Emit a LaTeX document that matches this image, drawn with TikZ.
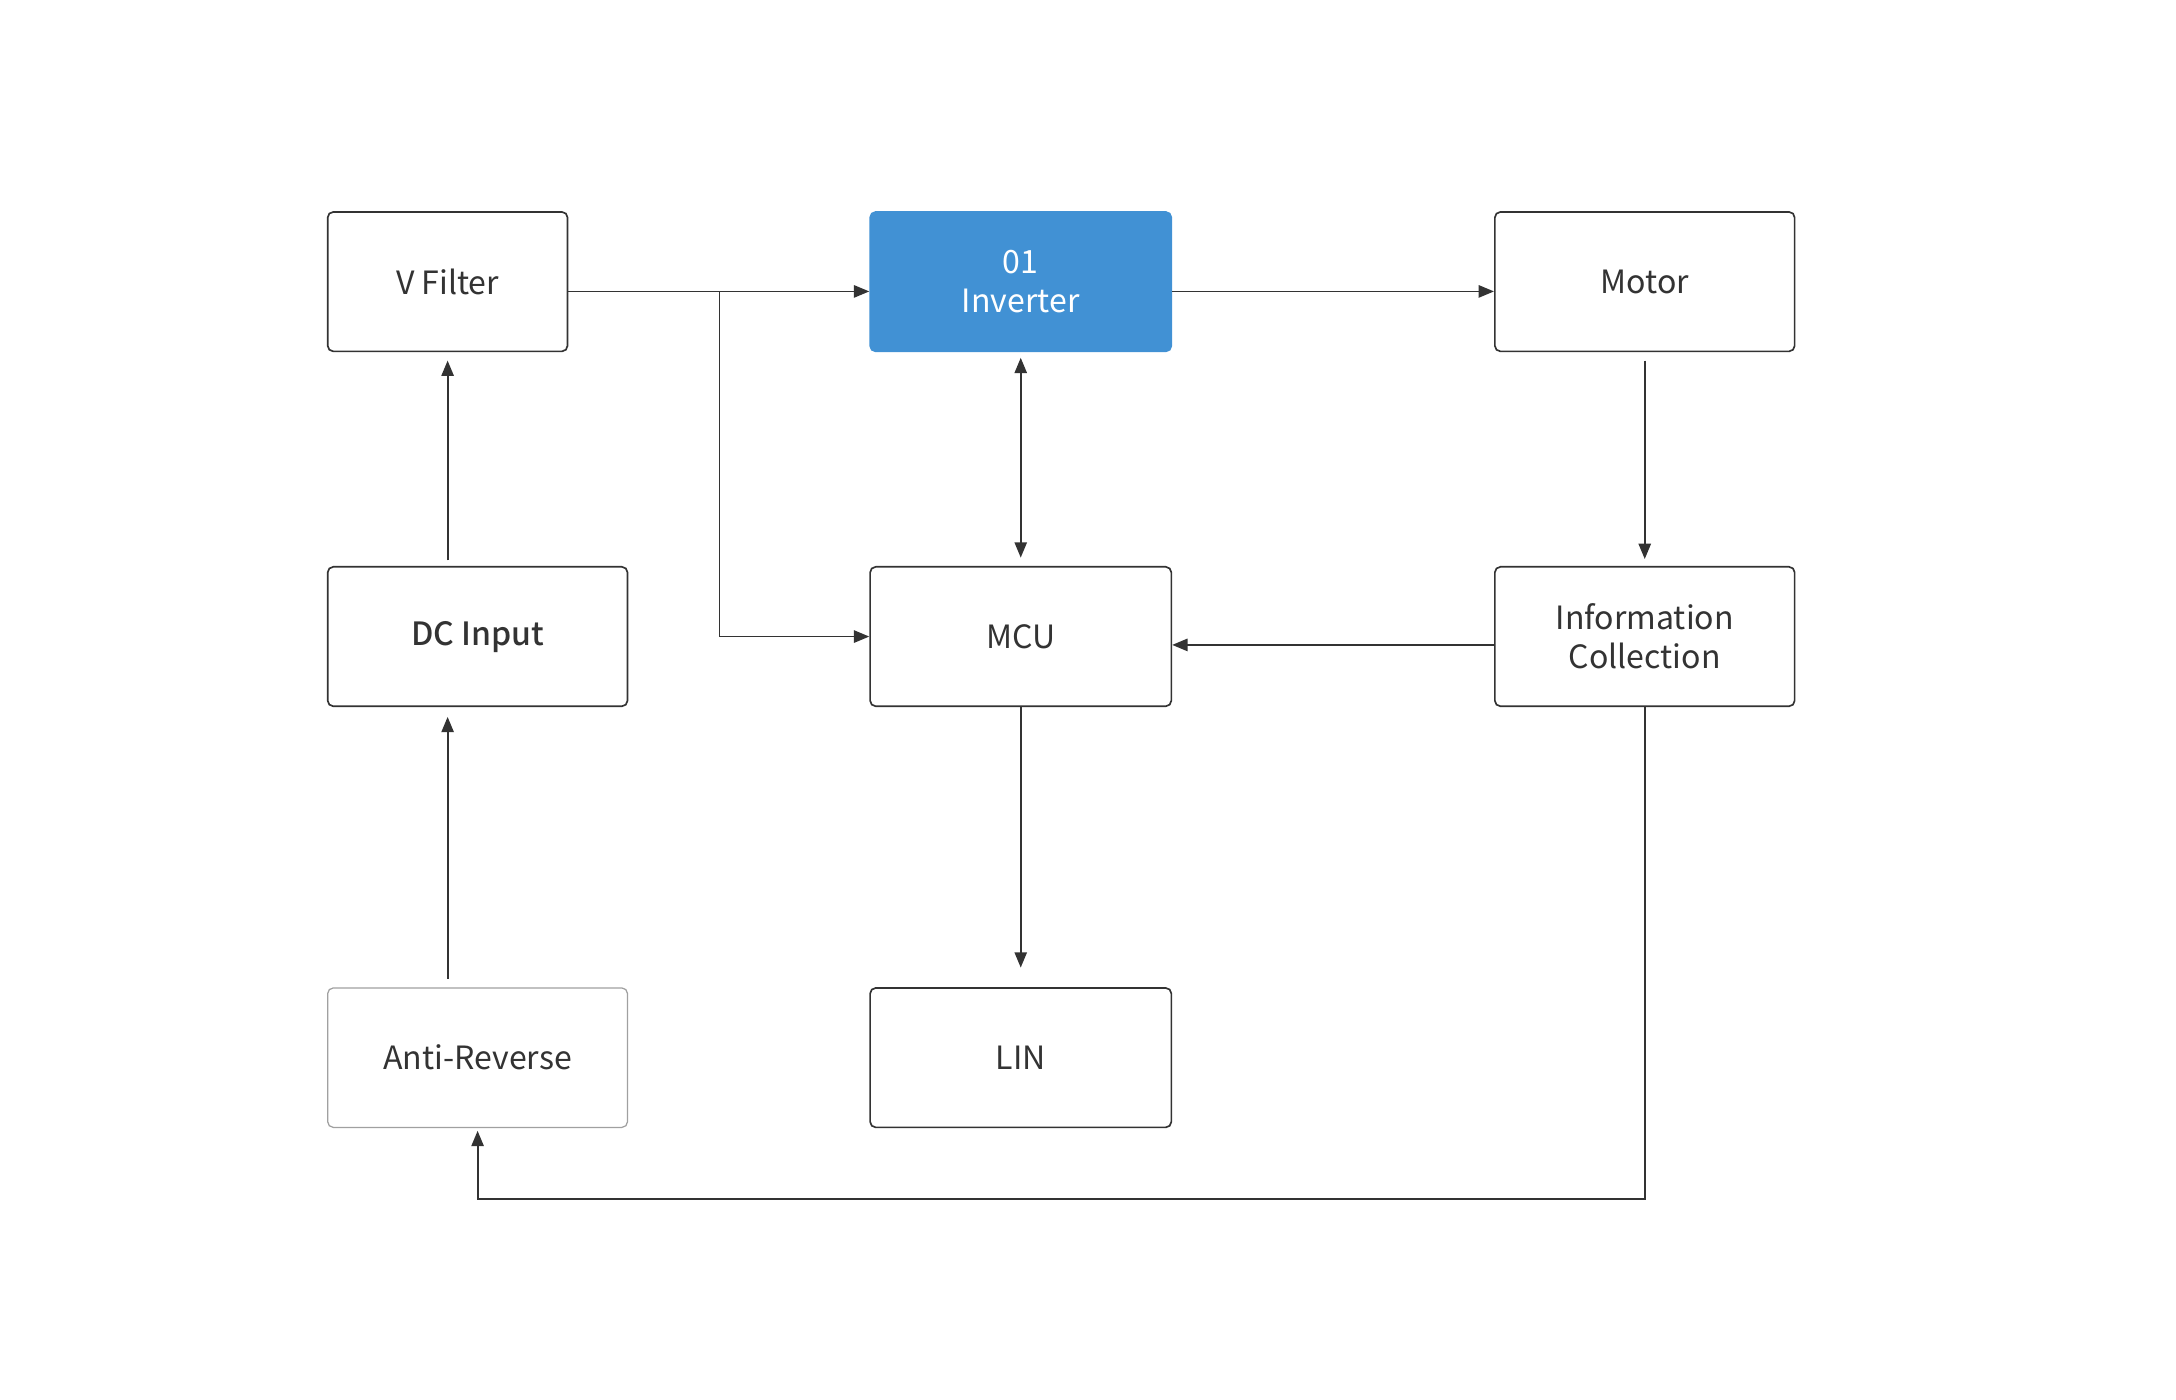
\documentclass[tikz,border=0pt]{standalone}
\usepackage{fontspec}
\setmainfont{Noto Sans CJK SC}
\newfontfamily\medfont{Noto Sans CJK SC}[UprightFont=* Medium]
\usetikzlibrary{arrows.meta}

\definecolor{ink}{HTML}{333333}
\definecolor{invblue}{HTML}{4191D4}
\definecolor{soft}{HTML}{A0A0A0}

\tikzset{
  blk/.style={draw=ink, line width=0.6pt, rounded corners=2pt, inner sep=0pt,
    minimum width=107.5pt, minimum height=50pt, align=center, text=ink,
    font=\fontsize{11.5}{14}\selectfont},
  hot/.style={blk, fill=invblue, draw=invblue, text=white},
  arr/.style={draw=ink, line width=0.65pt, -{Triangle[length=5.5pt,width=4.4pt]}},
  arrboth/.style={arr, {Triangle[length=5.5pt,width=4.4pt]}-{Triangle[length=5.5pt,width=4.4pt]}}
}

\begin{document}
\begin{tikzpicture}[x=0.5pt, y=-0.5pt]
\useasboundingbox (0,0) rectangle (1560.5,1004);

% boxes
\node[blk, minimum width=86pt] (vfilter) at (321,202) {V Filter};
\node[hot, minimum width=108pt] (inverter) at (732,202) {01\\Inverter};
\node[blk] (motor) at (1179.5,202) {Motor};
\node[blk, font=\fontsize{11.5}{14}\medfont] (dcin) at (342.5,456.5) {DC Input};
\node[blk, minimum width=108pt] (mcu) at (732,456.5) {MCU};
\node[blk] (info) at (1179.5,456.5) {Information\\Collection};
\node[blk, draw=soft, line width=0.45pt] (anti) at (342.5,758.5) {Anti-Reverse};
\node[blk, minimum width=108pt] (lin) at (732,758.5) {LIN};

\coordinate (split) at (516,209);
\coordinate (bottom) at (0,860);

% connectors
\draw[arr] ([yshift=-3.5pt]vfilter.east) -- ([yshift=-3.5pt]inverter.west);
\draw[arr] (split) |- (mcu.west);
\draw[arr] ([yshift=-3.5pt]inverter.east) -- ([yshift=-3.5pt]motor.west);
\draw[arrboth, shorten <=2pt, shorten >=3pt] (inverter.south) -- (mcu.north);
\draw[arr, shorten <=3pt, shorten >=2.5pt] (motor.south) -- (info.north);
\draw[arr] ([yshift=-3pt]info.west) -- ([yshift=-3pt]mcu.east);
\draw[arr, shorten >=7pt] (mcu.south) -- (lin.north);
\draw[arr, shorten <=2pt, shorten >=3pt] (vfilter.south |- dcin.north) -- (vfilter.south);
\draw[arr, shorten <=3pt, shorten >=3.5pt] (vfilter.south |- anti.north) -- (vfilter.south |- dcin.south);
\draw[arr, shorten >=1pt] (info.south) -- (info.south |- bottom) -| (anti.south);
\end{tikzpicture}
\end{document}
